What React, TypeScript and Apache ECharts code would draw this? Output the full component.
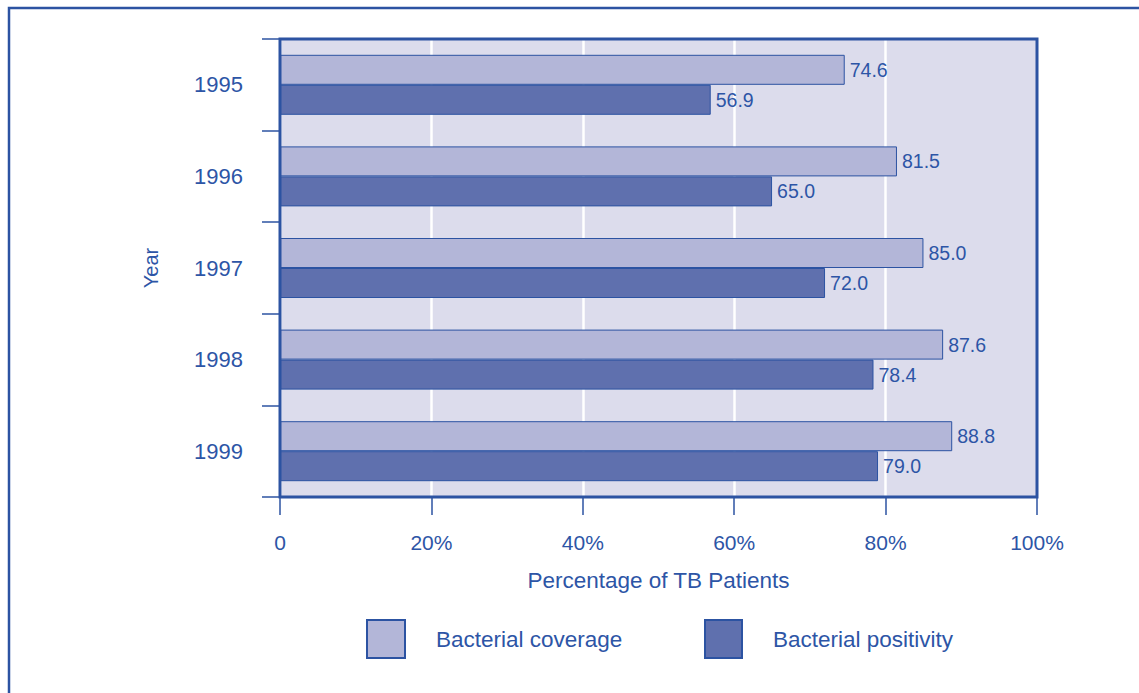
import React, { useEffect, useRef } from "react";
import * as echarts from "echarts";

const years = ["1995", "1996", "1997", "1998", "1999"];
const coverage = [74.6, 81.5, 85.0, 87.6, 88.8];
const positivity = [56.9, 65.0, 72.0, 78.4, 79.0];
const xTicks = [0, 20, 40, 60, 80, 100];

const TXT = "#2d55a6";
const DARK = "#2c53a2";
const FONT = "'Liberation Sans', Arial, sans-serif";

const G = { left: 280, top: 39, width: 757, height: 458 };

export default function App() {
  const ref = useRef<HTMLDivElement>(null);
  useEffect(() => {
    const chart = echarts.init(ref.current!, null, { renderer: "svg" });
    const labelCfg = {
      show: true,
      position: "right",
      distance: 5,
      color: TXT,
      fontSize: 19.5,
      fontFamily: FONT,
      formatter: (p: any) => Number(p.value).toFixed(1),
    };
    const legendText = { color: TXT, fontSize: 22.5, fontFamily: FONT, padding: [0, 0, 0, 26] };
    chart.setOption({
      animation: false,
      backgroundColor: "#ffffff",
      textStyle: { fontFamily: FONT, color: TXT },
      graphic: [
        {
          type: "rect",
          shape: { x: 9, y: 8, width: 1300, height: 900 },
          style: { fill: "none", stroke: DARK, lineWidth: 2.5 },
          silent: true,
          z: -10,
        },
        {
          type: "rect",
          shape: { x: G.left, y: G.top, width: G.width, height: G.height },
          style: { fill: "none", stroke: DARK, lineWidth: 3 },
          silent: true,
          z: 100,
        },
      ],
      grid: {
        ...G,
        show: true,
        backgroundColor: "#dcdcec",
        borderWidth: 0,
      },
      legend: [
        {
          data: ["Bacterial coverage"],
          left: 366,
          top: 619,
          padding: 0,
          itemWidth: 38,
          itemHeight: 38,
          icon: "rect",
          textStyle: legendText,
        },
        {
          data: ["Bacterial positivity"],
          left: 704,
          top: 619,
          padding: 0,
          itemWidth: 37,
          itemHeight: 38,
          icon: "rect",
          textStyle: legendText,
        },
      ],
      xAxis: {
        type: "value",
        min: xTicks[0],
        max: xTicks[xTicks.length - 1],
        interval: 20,
        name: "Percentage of TB Patients",
        nameLocation: "middle",
        nameGap: 72,
        nameTextStyle: { color: TXT, fontSize: 22.5, fontFamily: FONT },
        axisLine: { show: false },
        axisTick: { show: true, length: 18, lineStyle: { color: DARK, width: 1.5 } },
        axisLabel: {
          color: TXT,
          fontSize: 21,
          fontFamily: FONT,
          margin: 35,
          formatter: (v: number) => (v === 0 ? "0" : v + "%"),
        },
        splitLine: { show: true, lineStyle: { color: "#ffffff", width: 2.5 } },
      },
      yAxis: {
        type: "category",
        data: years,
        inverse: true,
        name: "Year",
        nameLocation: "middle",
        nameGap: 119,
        nameRotate: 90,
        nameTextStyle: { color: TXT, fontSize: 20, fontFamily: FONT },
        axisLine: { show: false },
        axisTick: { show: true, length: 18, lineStyle: { color: DARK, width: 1.5 } },
        axisLabel: { color: TXT, fontSize: 22, fontFamily: FONT, margin: 37 },
        splitLine: { show: false },
      },
      series: [
        {
          name: "Bacterial coverage",
          type: "bar",
          data: coverage,
          barWidth: 30,
          barGap: "0%",
          itemStyle: { color: "#b3b6d8", borderColor: DARK, borderWidth: 1 },
          label: labelCfg,
        },
        {
          name: "Bacterial positivity",
          type: "bar",
          data: positivity,
          barWidth: 30,
          barGap: "0%",
          itemStyle: { color: "#5f70ae", borderColor: DARK, borderWidth: 1 },
          label: labelCfg,
        },
      ],
    });
    return () => chart.dispose();
  }, []);
  return (
    <div
      ref={ref}
      style={{ position: "fixed", left: 0, top: 0, width: 1139, height: 693 }}
    />
  );
}
